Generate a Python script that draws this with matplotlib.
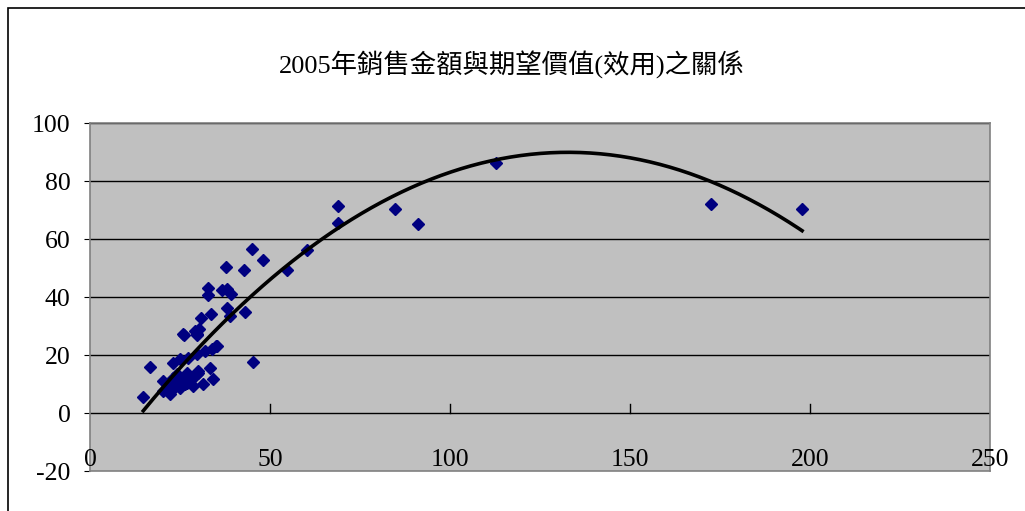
import numpy as np
import matplotlib
matplotlib.use("Agg")
import matplotlib.pyplot as plt
from matplotlib.patches import Rectangle

# 銷售金額 (x) 與 期望價值(效用) (y)
sales = [14.8, 16.7, 20.4, 21.3, 20.4, 23.1, 25.0, 25.9, 27.8, 29.6,
         28.7, 23.1, 24.1, 26.9, 30.1, 22.2, 23.1, 25.0, 27.3, 29.6,
         31.9, 33.8, 35.4, 33.3, 34.3, 31.3, 30.1, 25.9, 29.6, 26.1,
         29.8, 29.3, 30.3, 30.8, 35.0, 33.6, 38.9, 43.1, 38.0, 32.7,
         39.2, 38.1, 36.6, 32.7, 54.6, 42.9, 37.8, 48.1, 44.9, 45.4,
         60.3, 69.0, 69.0, 84.7, 91.0, 112.8, 172.5, 197.8, 22.0, 24.5,
         26.5, 28.0, 21.5, 27.0]
utility = [5.5, 16.0, 11.0, 9.9, 7.6, 8.2, 8.7, 11.0, 12.2, 13.3,
           9.3, 12.2, 13.3, 13.9, 14.5, 6.4, 17.3, 18.5, 19.1, 20.2,
           21.4, 22.0, 23.1, 15.6, 11.6, 10.1, 13.9, 27.1, 27.1, 26.9,
           26.9, 28.3, 28.9, 32.9, 23.1, 34.0, 33.4, 34.8, 36.3, 40.6,
           40.9, 42.7, 42.3, 43.2, 49.2, 49.2, 50.4, 52.8, 56.4, 17.7,
           56.2, 71.4, 65.5, 70.3, 65.2, 86.2, 72.0, 70.3, 10.5, 9.5,
           10.0, 11.5, 8.5, 10.2]

# 二次趨勢線係數 (讀自圖上)
trend_coef = [-0.0064, 1.70, -23.0]

xticks = [0, 50, 100, 150, 200, 250]
yticks = [-20, 0, 20, 40, 60, 80, 100]
title = "2005年銷售金額與期望價值(效用)之關係"

serif = ['Liberation Serif', 'Noto Sans CJK TC']

fig = plt.figure(figsize=(10.25, 5.11), dpi=100)
# 外框: 只見上邊與左邊
fig.patches.append(Rectangle((8/1025, -0.2), 1.2, 1.2 - 8/511, transform=fig.transFigure,
                             fill=False, edgecolor='black', lw=1.2))

ax = fig.add_axes([90/1025, 40/511, 900/1025, 348/511])
ax.set_facecolor('#C0C0C0')
ax.set_xlim(0, 250)
ax.set_ylim(-20, 100)

for y in yticks[1:]:
    ax.axhline(y, color='black', lw=1, zorder=1)

for s in ax.spines.values():
    s.set_color('#808080')
    s.set_linewidth(1.2)

# x 軸刻度 (在 y=0 線上, 向上)
for xt in xticks[1:-1]:
    ax.plot([xt, xt], [0, 3], color='black', lw=1, zorder=1)
for xt in xticks:
    ax.text(xt, -16.3, str(xt), ha='center', va='center', family=serif, fontsize=18.5, zorder=5)
ax.set_xticks([])

ax.set_yticks(yticks)
ax.set_yticklabels([str(v) for v in yticks], family=serif, fontsize=18.5)
ax.tick_params(axis='y', direction='out', length=4, pad=10, color='black')

ax.plot(sales, utility, ls='none', marker='D', ms=6.5, color='#000080', mec='#000080', zorder=3)

xs = np.linspace(min(sales), max(sales), 200)
ax.plot(xs, np.polyval(trend_coef, xs), color='black', lw=2.6, zorder=4)

fig.text(512/1025, 1 - 65/511, title, ha='center', va='center', family=serif, fontsize=19)

fig.savefig('out.png', dpi=100)
